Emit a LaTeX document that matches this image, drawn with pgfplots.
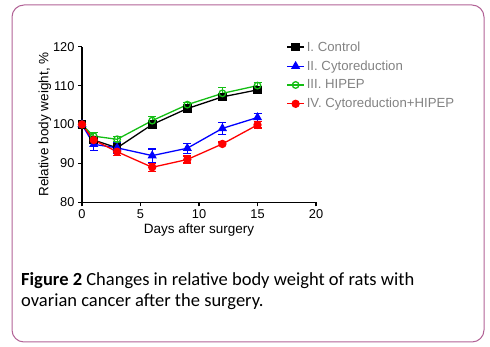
\documentclass[border=0pt]{standalone}
\usepackage{pgfplots}
\pgfplotsset{compat=1.18}
\usepackage{fontspec}
\setmainfont{Liberation Sans}
\newfontfamily\capfont{Carlito}
\definecolor{frame}{RGB}{178,98,150}
\definecolor{gplgreen}{RGB}{20,190,20}
\definecolor{leggray}{RGB}{130,130,130}
\begin{document}
\begin{tikzpicture}[x=1pt,y=1pt]
\useasboundingbox (0pt,0pt) rectangle (490pt,347pt);
\draw[frame, line width=1pt, rounded corners=12pt] (12pt,5pt) rectangle (484pt,342pt);
\node[anchor=base west, inner sep=0pt, font=\capfont\fontsize{18.5}{22}\selectfont] at (21pt,61pt) {\textbf{Figure 2} Changes in relative body weight of rats with};
\node[anchor=base west, inner sep=0pt, font=\capfont\fontsize{18.5}{22}\selectfont] at (21pt,40pt) {ovarian cancer after the surgery.};
\begin{axis}[
  at={(82pt,144.7pt)}, anchor=south west,
  scale only axis, width=234pt, height=155.6pt,
  xmin=0, xmax=20, ymin=80, ymax=120,
  xtick={0,5,10,15,20}, ytick={80,90,100,110,120},
  axis x line*=bottom, axis y line*=left,
  axis line style={line width=1.3pt, -},
  tick style={line width=1.3pt, black},
  tick align=outside, major tick length=4pt,
  tick label style={font=\fontsize{12.8}{14}\selectfont},
  /pgf/number format/assume math mode=true,
  xlabel={Days after surgery}, ylabel={Relative body weight, \%},
  label style={font=\fontsize{13.5}{15}\selectfont},
  xlabel style={yshift=2pt},
  ylabel style={yshift=-5pt},
  clip=false,
  legend style={draw=none, fill=none, at={(0.86,1.06)}, anchor=north west,
    font=\fontsize{13.2}{15}\selectfont\color{leggray}, row sep=4pt,
    legend cell align=left},
  legend image post style={line width=1.3pt},
  every axis plot/.append style={line width=1.3pt},
  error bars/error bar style={line width=1.1pt},
  error bars/error mark options={rotate=90, mark size=4pt, line width=1.1pt},
]
\addplot[black, mark=square*, mark size=3.7pt, mark options={solid},
  error bars/.cd, y dir=both, y explicit]
  coordinates {(0,100) +- (0,0.5) (1,96) +- (0,1) (3,94) +- (0,1.2) (6,100) +- (0,1) (9,104.1) +- (0,0.6) (12,107.1) +- (0,0.6) (15,108.9) +- (0,0.6)};
\addlegendentry{I. Control}
\addplot[blue, mark=triangle*, mark size=4pt,
  error bars/.cd, y dir=both, y explicit]
  coordinates {(0,100) +- (0,0.5) (1,94.9) +- (0,1.5) (3,94) +- (0,1.5) (6,92) +- (0,1.7) (9,93.9) +- (0,1.3) (12,99) +- (0,1.5) (15,101.8) +- (0,1.0)};
\addlegendentry{II. Cytoreduction}
\addplot[gplgreen, mark=o, mark size=3.3pt, mark options={fill=white},
  error bars/.cd, y dir=both, y explicit]
  coordinates {(0,100) +- (0,0.5) (1,97) +- (0,1) (3,96.2) +- (0,0.6) (6,101) +- (0,1) (9,105.1) +- (0,0.5) (12,108) +- (0,1.5) (15,110) +- (0,0.8)};
\addlegendentry{III. HIPEP}
\addplot[red, mark=*, mark size=3.5pt,
  error bars/.cd, y dir=both, y explicit]
  coordinates {(0,100) +- (0,0.5) (1,96) +- (0,1) (3,93) +- (0,1) (6,89) +- (0,1) (9,91) +- (0,0.9) (12,95) +- (0,0.5) (15,99.9) +- (0,0.8)};
\addlegendentry{IV. Cytoreduction+HIPEP}
\end{axis}
\end{tikzpicture}
\end{document}
